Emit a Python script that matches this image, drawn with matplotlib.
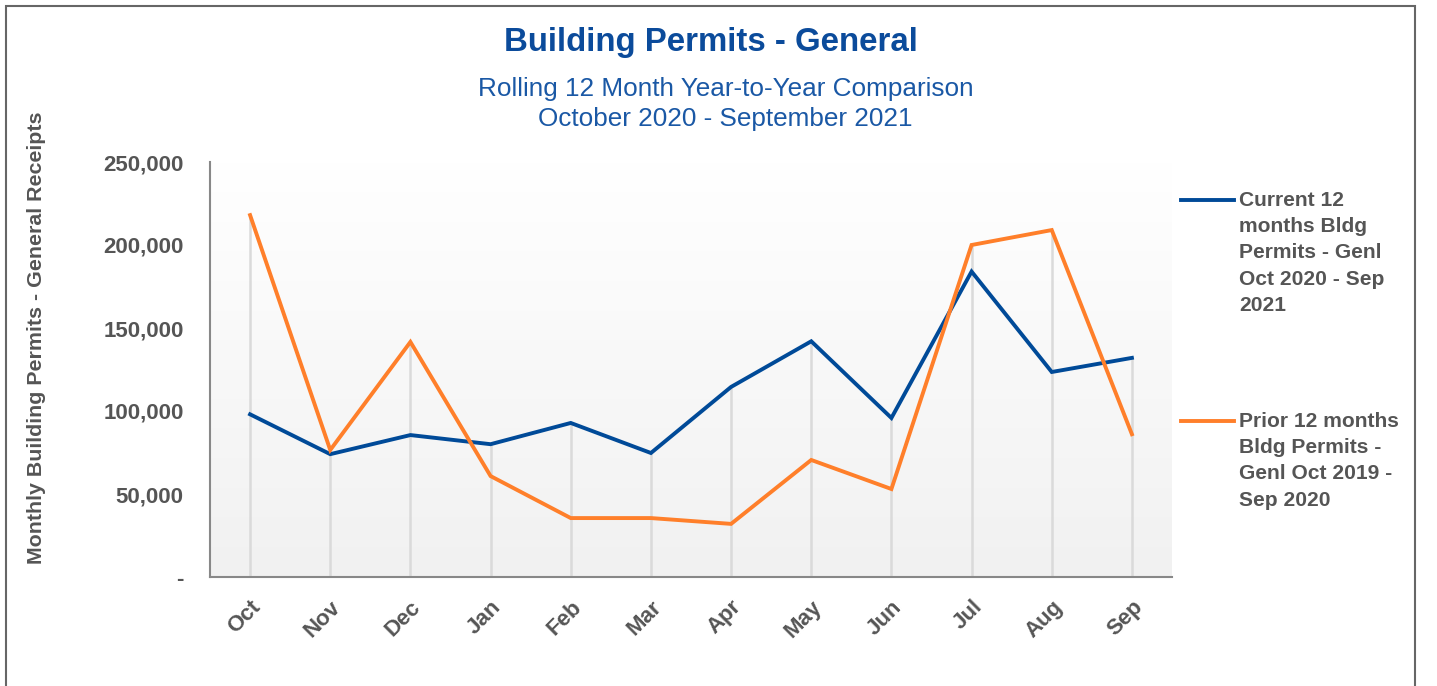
import matplotlib
matplotlib.use('Agg')
import matplotlib.pyplot as plt
from matplotlib.lines import Line2D
from matplotlib.patches import Rectangle
from matplotlib.colors import LinearSegmentedColormap
from matplotlib.ticker import FuncFormatter
import matplotlib.transforms as mtransforms
import numpy as np

months = ['Oct', 'Nov', 'Dec', 'Jan', 'Feb', 'Mar', 'Apr', 'May', 'Jun', 'Jul', 'Aug', 'Sep']
current = [98000, 74000, 85500, 80000, 92800, 74700, 114500, 142000, 95800, 184000, 123500, 132000]
prior = [218000, 76500, 141600, 60800, 35500, 35500, 32000, 70500, 53000, 200000, 209000, 86000]
current_label = 'Current 12\nmonths Bldg\nPermits - Genl\nOct 2020 - Sep\n2021'
prior_label = 'Prior 12 months\nBldg Permits -\nGenl Oct 2019 -\nSep 2020'

blue = '#004a98'
orange = '#ff7f2a'
grey_txt = '#555555'

plt.rcParams['font.family'] = ['Liberation Sans', 'DejaVu Sans']

fig = plt.figure(figsize=(14.37, 6.86), dpi=100)
W, H = 1437, 686
ax = fig.add_axes([210 / W, 1 - 577 / H, (1172 - 210) / W, (577 - 162) / H])

# gradient background of plot area
cmap = LinearSegmentedColormap.from_list('bg', ['#f1f1f1', '#ffffff'])
grad = np.linspace(0, 1, 256).reshape(-1, 1)
ax.imshow(grad, extent=[0, 1, 0, 1], transform=ax.transAxes, aspect='auto',
          cmap=cmap, origin='lower', zorder=0)

x = np.arange(len(months))
# drop lines from the higher point down to the axis
ax.vlines(x, 0, np.maximum(current, prior), color='#dadada', lw=1.8, zorder=1)
ax.plot(x, current, color=blue, lw=2.8, zorder=3, solid_joinstyle='miter')
ax.plot(x, prior, color=orange, lw=2.8, zorder=3, solid_joinstyle='miter')

ax.set_xlim(-0.5, len(months) - 0.5)
ax.set_ylim(0, 250000)
ax.set_xticks(x)
ax.set_xticklabels(months, rotation=45, ha='right', rotation_mode='anchor',
                   fontsize=16, fontweight='bold', color=grey_txt)
shift = mtransforms.ScaledTranslation(-5 / 100, 0, fig.dpi_scale_trans)
for lab in ax.get_xticklabels():
    lab.set_transform(lab.get_transform() + shift)
ax.set_yticks(np.arange(0, 250001, 50000))
ax.yaxis.set_major_formatter(FuncFormatter(lambda v, p: '-' if v == 0 else f'{int(v):,}'))
for lab in ax.get_yticklabels():
    lab.set_fontsize(16)
    lab.set_fontweight('bold')
    lab.set_color(grey_txt)
ax.tick_params(axis='both', length=0)
ax.tick_params(axis='y', pad=19)
ax.tick_params(axis='x', pad=14)
for s in ['top', 'right']:
    ax.spines[s].set_visible(False)
for s in ['left', 'bottom']:
    ax.spines[s].set_color('#888888')
    ax.spines[s].set_linewidth(1.5)
    ax.spines[s].set_zorder(4)

fig.text(37 / W, 1 - 338 / H, 'Monthly Building Permits - General Receipts', rotation=90,
         ha='center', va='center', fontsize=15.4, fontweight='bold', color=grey_txt)

# titles
fig.text(711 / W, 1 - 43 / H, 'Building Permits - General', ha='center', va='center',
         fontsize=23.8, fontweight='bold', color='#0b4b9b')
fig.text(725.5 / W, 1 - 104 / H, 'Rolling 12 Month Year-to-Year Comparison\nOctober 2020 - September 2021',
         ha='center', va='center', fontsize=18.8, color='#1a58a5', linespacing=1.35)

# legend drawn by hand so the line sits at the first text line
for lbl, col, ytop in [(current_label, blue, 200), (prior_label, orange, 421)]:
    fig.add_artist(Line2D([1181 / W, 1234 / W], [1 - ytop / H] * 2, color=col, lw=2.8))
    fig.text(1239 / W, 1 - (ytop - 9) / H, lbl, ha='left', va='top', fontsize=15.1,
             fontweight='bold', color=grey_txt, linespacing=1.48)

# outer border
fig.add_artist(Rectangle((6 / W, -0.05), (1415 - 6) / W, 1.05 - 6 / H, transform=fig.transFigure,
                         fill=False, ec='#666666', lw=1.5))

fig.savefig('out.png', dpi=100)
